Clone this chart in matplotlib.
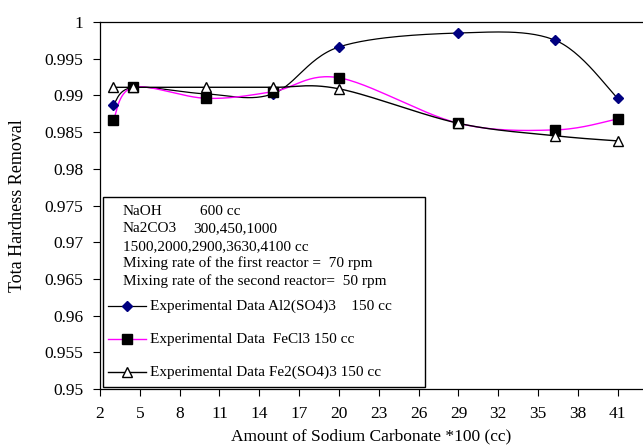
import numpy as np
import matplotlib
matplotlib.use("Agg")
import matplotlib.pyplot as plt
from matplotlib.patches import Rectangle
from matplotlib.lines import Line2D

plt.rcParams['font.family'] = ['Liberation Serif', 'DejaVu Serif']

# ── Data ──────────────────────────────────────────────────
na2co3 = [3, 4.5, 10, 15, 20, 29, 36.3, 41]
al2so43 = [0.9887, 0.9911, 0.9902, 0.9902, 0.9966, 0.9985, 0.9975, 0.9896]
fecl3 = [0.9866, 0.9911, 0.9896, 0.9905, 0.9924, 0.9862, 0.9853, 0.9868]
fe2so43 = [0.9911, 0.9911, 0.9911, 0.9911, 0.9909, 0.9862, 0.9845, 0.9838]

x_ticks = list(range(2, 42, 3))
y_ticks = [0.95, 0.955, 0.96, 0.965, 0.97, 0.975, 0.98, 0.985, 0.99, 0.995, 1]
y_labels = ["0.95", "0.955", "0.96", "0.965", "0.97", "0.975", "0.98", "0.985", "0.99", "0.995", "1"]

# (left text, right text) rows of the info block
info_rows = [("NaOH", "600 cc"),
             ("Na2CO3", "300,450,1000"),
             ("1500,2000,2900,3630,4100 cc", ""),
             ("Mixing rate of the first reactor =  70 rpm", ""),
             ("Mixing rate of the second reactor=  50 rpm", "")]
series_names = ["Experimental Data Al2(SO4)3    150 cc",
                "Experimental Data  FeCl3 150 cc",
                "Experimental Data Fe2(SO4)3 150 cc"]

XLIM = (2, 42.9)
YLIM = (0.95, 1.0)


def smooth(xs, ys, n=30):
    # Excel style smoothed line (bezier through the points, in pixel space)
    px = (np.asarray(xs) - XLIM[0]) / (XLIM[1] - XLIM[0]) * 543
    py = (np.asarray(ys) - YLIM[0]) / (YLIM[1] - YLIM[0]) * 367
    P = np.column_stack([px, py])
    P = np.vstack([P[0], P, P[-1]])
    out = []
    t = np.linspace(0, 1, n)[:, None]
    for i in range(1, len(P) - 2):
        p0, p1, p2, p3 = P[i - 1], P[i], P[i + 1], P[i + 2]
        c1 = p1 + (p2 - p0) / 6
        c2 = p2 - (p3 - p1) / 6
        seg = ((1 - t) ** 3) * p1 + 3 * ((1 - t) ** 2) * t * c1 + 3 * (1 - t) * t ** 2 * c2 + t ** 3 * p2
        out.append(seg)
    out = np.vstack(out)
    sx = out[:, 0] / 543 * (XLIM[1] - XLIM[0]) + XLIM[0]
    sy = out[:, 1] / 367 * (YLIM[1] - YLIM[0]) + YLIM[0]
    return sx, sy


fig = plt.figure(figsize=(6.43, 4.48), dpi=100)
ax = fig.add_axes([100 / 643, 1 - 389 / 448, 543 / 643, 367 / 448])

styles = [
    dict(data=al2so43, lc="black", lw=0.9, marker="D", ms=5.5, mfc="#000080", mec="#000080"),
    dict(data=fecl3, lc="#ff00ff", lw=1.0, marker="s", ms=6.5, mfc="black", mec="black"),
    dict(data=fe2so43, lc="black", lw=1.0, marker="^", ms=7.5, mfc="white", mec="black"),
]
for s in styles:
    sx, sy = smooth(na2co3, s["data"])
    ax.plot(sx, sy, color=s["lc"], lw=s["lw"], zorder=2)
    ax.plot(na2co3, s["data"], ls="none", marker=s["marker"], ms=s["ms"],
            mfc=s["mfc"], mec=s["mec"], mew=1.0, zorder=3)

ax.set_xlim(*XLIM)
ax.set_ylim(*YLIM)
ax.set_xticks(x_ticks)
ax.set_yticks(y_ticks)
ax.set_yticklabels(y_labels)
ax.tick_params(direction="out", length=5, width=0.8, labelsize=12.5)
ax.tick_params(axis="y", pad=7)
ax.tick_params(axis="x", pad=7)
ax.spines["right"].set_visible(False)
for sp in ["left", "bottom", "top"]:
    ax.spines[sp].set_linewidth(0.9)
ax.set_xlabel("Amount of Sodium Carbonate *100 (cc)", fontsize=12.5, va="center")
ax.set_ylabel("Tota Hardness Removal", fontsize=13, va="center")
ax.xaxis.set_label_coords(0.5, (389 - 436) / 367)
ax.yaxis.set_label_coords((18 - 100) / 543, 0.5)

# ── Legend box (Excel style, with text rows) ─────────────
tr = ax.transAxes
def ax_x(px): return (px - 100) / 543
def ax_y(py): return (389 - py) / 367

ax.add_patch(Rectangle((ax_x(102.5), ax_y(387)), ax_x(425) - ax_x(102.5), ax_y(197) - ax_y(387),
                       transform=tr, fill=True, facecolor="white", edgecolor="black",
                       lw=1.0, zorder=4))
right_x = [200, 193]
for i, (left, right) in enumerate(info_rows):
    yy = ax_y(215 + i * 17.5)
    ax.text(ax_x(123), yy, left, transform=tr, fontsize=11, va="baseline", ha="left", zorder=5)
    if right:
        ax.text(ax_x(right_x[i]), yy, right, transform=tr, fontsize=11,
                va="baseline", ha="left", zorder=5)
for i, (name, s) in enumerate(zip(series_names, styles)):
    yy = ax_y(306 + i * 33)
    ax.add_line(Line2D([ax_x(108), ax_x(146)], [yy, yy], transform=tr, color=s["lc"],
                       lw=s["lw"], zorder=5))
    ax.add_line(Line2D([ax_x(127)], [yy], transform=tr, ls="none", marker=s["marker"],
                       ms=s["ms"], mfc=s["mfc"], mec=s["mec"], mew=1.0, zorder=6))
    ax.text(ax_x(150), yy, name, transform=tr, fontsize=11, va="center", ha="left", zorder=5)

fig.savefig("out.png", dpi=100)
